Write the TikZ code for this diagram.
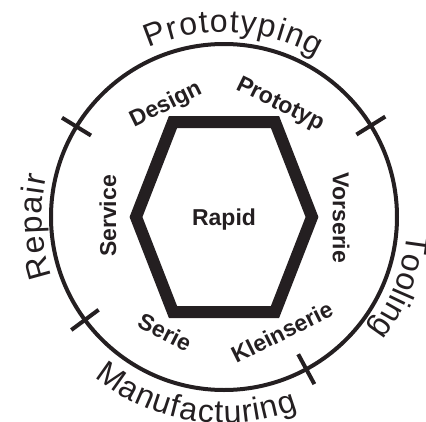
\documentclass[tikz,border=0pt]{standalone}
\usepackage{fontspec}
\setmainfont{Liberation Sans}
\usetikzlibrary{decorations.text}
\newcommand{\outerfont}{\fontsize{32}{36}\selectfont}
\newcommand{\innerfont}{\fontsize{23}{27}\selectfont\bfseries}
\begin{document}
\begin{tikzpicture}
\definecolor{cink}{rgb}{0.14,0.12,0.13}
\definecolor{cring}{rgb}{0.14,0.12,0.13}
\definecolor{chex}{rgb}{0.14,0.12,0.13}
\tikzset{
  ringline/.style={draw=cring,line width=4pt},
  tickline/.style={draw=cring,line width=4pt},
  hexline/.style={draw=chex,line width=12pt,miter limit=10},
  outertext/.style={decorate,decoration={text along path,text color=cink,
    text={|\outerfont|#1},text align={fit to path}}},
  innerlabel/.style={text=cink,font=\innerfont,inner sep=0pt}
}
\useasboundingbox (-224pt,-204pt) rectangle (202pt,217pt);
%
\draw[ringline] (0,0) circle[radius=173pt];
\foreach \a in {148.5,31.9,216.5,298.4}
  \draw[tickline] (\a:156pt) -- (\a:190pt);
%
\draw[hexline] (-88pt,0pt) -- (-51pt,95pt) -- (51pt,95pt) -- (88pt,0pt)
  -- (51pt,-95pt) -- (-51pt,-95pt) -- cycle;
\node[innerlabel] (rapid) at (0pt,-3pt) {Rapid};
%
\node[innerlabel,rotate=26] (design) at (-58pt,112pt) {Design};
\node[innerlabel,rotate=-26] (prototyp) at (56pt,112pt) {Prototyp};
\node[innerlabel,rotate=-90] (vorserie) at (117pt,-1pt) {Vorserie};
\node[innerlabel,rotate=26.5] (kleinserie) at (58pt,-115pt) {Kleinserie};
\node[innerlabel,rotate=-27] (serie) at (-59pt,-115pt) {Serie};
\node[innerlabel,rotate=90] (service) at (-116pt,1pt) {Service};
%
\path[outertext=Prototyping] (114:185pt) arc[start angle=114,end angle=60,radius=185pt];
\path[outertext=Tooling] (-5:184pt) arc[start angle=-5,end angle=-38,radius=184pt];
\path[outertext=Manufacturing] (231:206pt) arc[start angle=231,end angle=291,radius=206pt];
\path[outertext=Repair] (199:182pt) arc[start angle=199,end angle=167,radius=182pt];
%
\end{tikzpicture}
\end{document}
